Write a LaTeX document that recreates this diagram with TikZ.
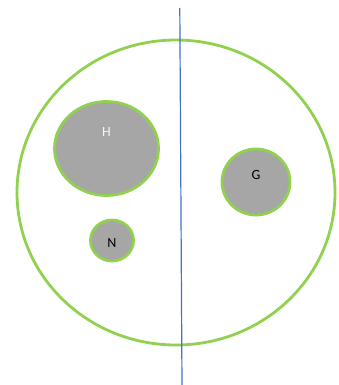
\documentclass[tikz,border=0pt]{standalone}
\usepackage{fontspec}
\setmainfont{Carlito}
\usetikzlibrary{shapes.geometric}
\definecolor{kreisgruen}{HTML}{92D050}
\definecolor{fuellgrau}{HTML}{A6A6A6}
\definecolor{linieblau}{HTML}{4472C4}
\tikzset{
  blase/.style={ellipse, draw=kreisgruen, line width=2.8pt, fill=fuellgrau, inner sep=0pt},
  beschriftung/.style={font=\fontsize{14}{16}\selectfont, inner sep=0pt},
}
\begin{document}
\begin{tikzpicture}[x=1pt, y=-1pt]
  \useasboundingbox (0, 0) rectangle (339, 385);
  % Aeusserer Kreis
  \node[ellipse, draw=kreisgruen, line width=2.8pt, minimum width=318pt, minimum height=305pt, inner sep=0pt] (aussen) at (176, 192.5) {};
  % Innere Kreise
  \node[blase, minimum width=104pt, minimum height=94pt] (H) at (106.5, 148.5) {};
  \node[blase, minimum width=68pt, minimum height=66pt] (G) at (256, 182) {};
  \node[blase, minimum width=43pt, minimum height=41pt] (N) at (112, 240.5) {};
  % Beschriftungen
  \node[beschriftung, text=white!92!gray] (H-text) at (106.5, 132) {H};
  \node[beschriftung] (G-text) at (256, 175) {G};
  \node[beschriftung] (N-text) at (112, 243) {N};
  % Trennlinie
  \coordinate (oben) at (179.8, 8);
  \coordinate (unten) at (182, 385);
  \draw[linieblau, line width=1.2pt] (oben) -- (unten);
\end{tikzpicture}
\end{document}
